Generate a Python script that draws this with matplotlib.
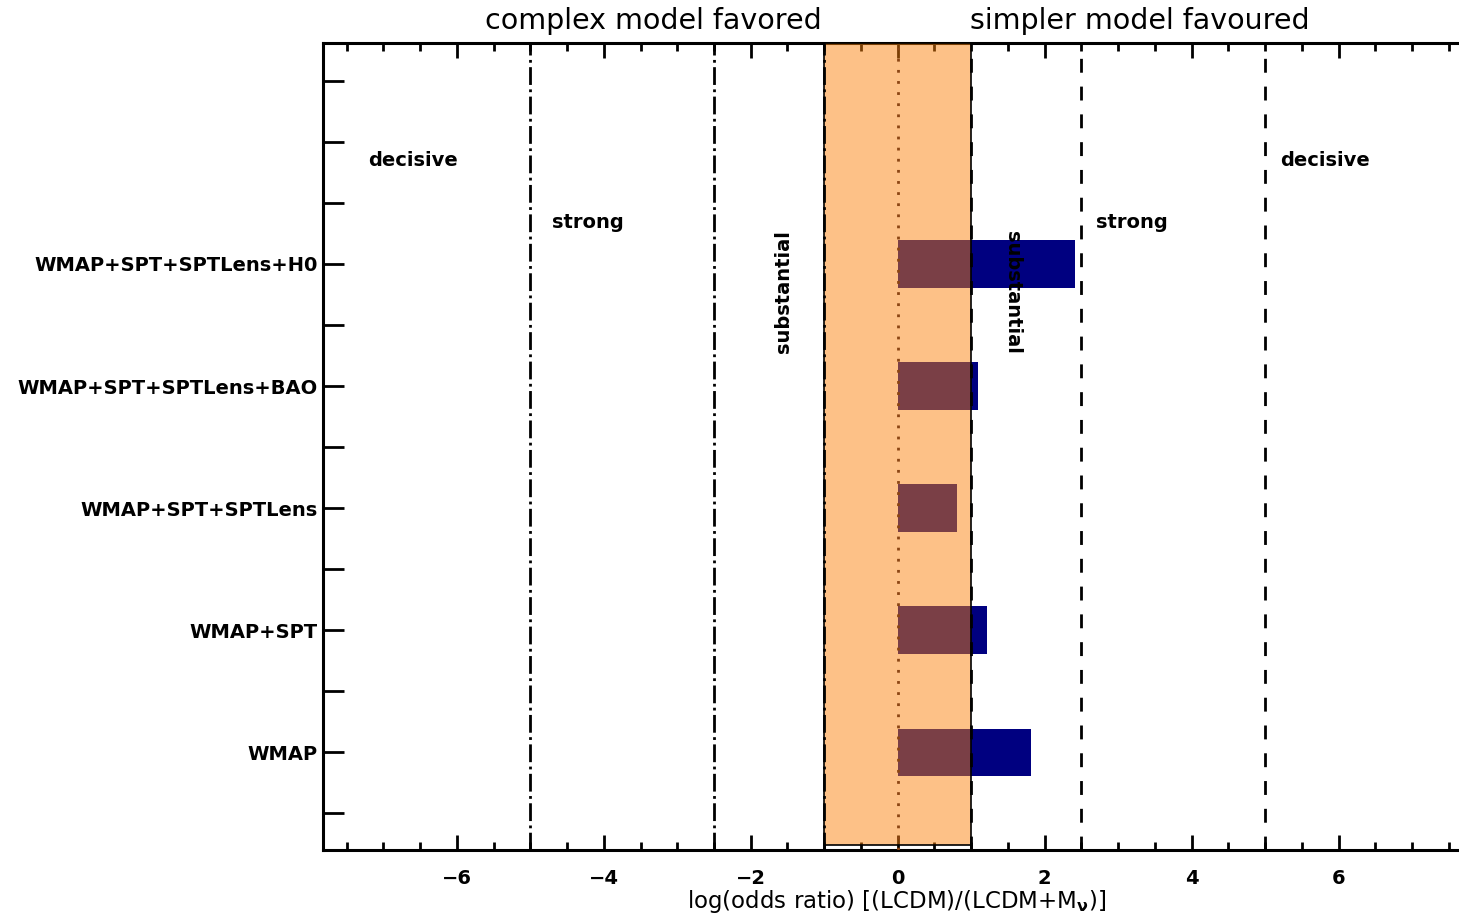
import matplotlib.pyplot as plt
import numpy as np

datasets = ["WMAP", "WMAP+SPT", "WMAP+SPT+SPTLens", "WMAP+SPT+SPTLens+BAO", "WMAP+SPT+SPTLens+H0"]
log_odds = [1.81, 1.21, 0.80, 1.09, 2.41]
ypos = [1, 2, 3, 4, 5]

jeffreys_left = [-5.0, -2.5, -1.0]
jeffreys_right = [1.0, 2.5, 5.0]

plt.rcParams['font.family'] = ['DejaVu Sans']

fig = plt.figure(figsize=(14.59, 9.23), dpi=100)
ax = fig.add_axes([323 / 1459, 73 / 923, 1148 / 1459, 807 / 923])

ax.barh(ypos, log_odds, height=0.39, color="#000080", zorder=2)
# orange band for |log odds| < 1, drawn translucent on top of the bars
ax.axvspan(-1, 1, ymin=0.006, ymax=1, facecolor=(251/255, 129/255, 10/255), alpha=0.49,
           zorder=3, lw=0)
ax.axvspan(-1, 1, ymin=0.006, ymax=1, facecolor="none", edgecolor="black", lw=1.2, zorder=4)
ax.axvline(0, color="#8B4513", ls=(0, (1, 3)), lw=2, zorder=4)

for x in jeffreys_left:
    ax.axvline(x, color="black", ls="-.", lw=2, zorder=4)
for x in jeffreys_right:
    ax.axvline(x, color="black", ls=(0, (5, 5)), lw=2, zorder=4)

ax.set_xlim(-7.82, 7.8)
ax.set_ylim(0.2, 6.81)

ax.set_xticks(np.arange(-6, 7, 2))
ax.set_xticklabels([f"{v:d}".replace("-", "\u2212") for v in range(-6, 7, 2)],
                   fontsize=14, fontweight="bold")
ax.set_xticks(np.arange(-7.5, 7.6, 0.5), minor=True)
ax.tick_params(axis="x", which="major", direction="in", length=11, width=2, top=True, pad=14)
ax.tick_params(axis="x", which="minor", direction="in", length=6, width=2, top=True)

yt = np.arange(0.5, 6.6, 0.5)
ax.set_yticks(yt)
ax.set_yticklabels([datasets[int(v) - 1] if v in ypos else "" for v in yt],
                   fontsize=14, fontweight="bold")
ax.tick_params(axis="y", direction="in", length=15, width=2, right=False, pad=4)

for s in ax.spines.values():
    s.set_linewidth(2.2)

ax.set_xlabel(r"log(odds ratio) [(LCDM)/(LCDM+M$_\mathbf{\nu}$)]", fontsize=16.5, labelpad=0)

kw = dict(fontsize=14, fontweight="bold", ha="center", va="center", zorder=5)
ax.text(-6.6, 5.85, "decisive", **kw)
ax.text(-4.22, 5.34, "strong", **kw)
ax.text(-1.56, 4.77, "substantial", rotation=90, **kw)
ax.text(1.56, 4.77, "substantial", rotation=-90, **kw)
ax.text(3.18, 5.34, "strong", **kw)
ax.text(5.81, 5.85, "decisive", **kw)

fig.text(653 / 1459, 1 - 21 / 923, "complex model favored", fontsize=20.5,
         ha="center", va="center")
fig.text(1140 / 1459, 1 - 21 / 923, "simpler model favoured", fontsize=20.5,
         ha="center", va="center")

fig.savefig("out.png", dpi=100)
